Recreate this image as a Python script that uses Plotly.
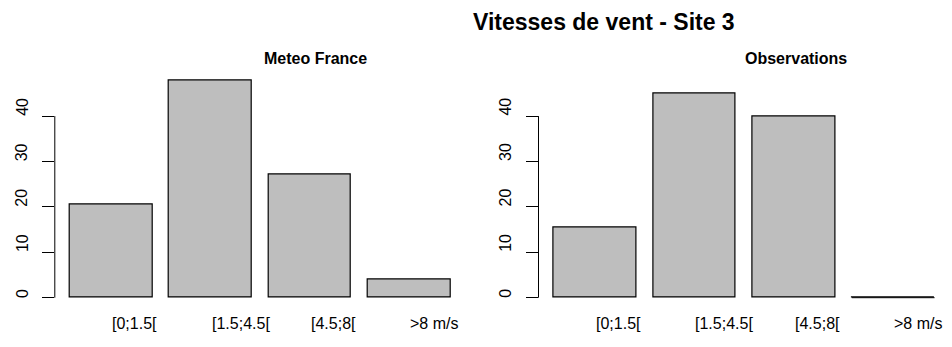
import plotly.graph_objects as go

# Wind speed classes and frequency (%) per source
categories = ["[0;1.5[", "[1.5;4.5[", "[4.5;8[", ">8 m/s"]
meteo_france = [20.6, 47.9, 27.2, 3.9]
observations = [15.4, 44.9, 39.8, 0.0]
y_ticks = [0, 10, 20, 30, 40]

main_title = "Vitesses de vent - Site 3"
panel_titles = ["Meteo France", "Observations"]

W, H = 952, 347
FONT = "Liberation Sans, Arial, sans-serif"
BAR_FILL = "#bebebe"
BAR_WIDTH = 1 / 1.2  # R barplot: width 1, space 0.2

# shared y range, padded 4% like R's default axis style
ymax = max(max(meteo_france), max(observations))
pad = 0.04 * ymax
y_range = [-pad, ymax + pad]

# plot regions (in pixels) converted to paper fractions
x_domains = [[54.8 / W, 465.6 / W], [538.5 / W, 949.8 / W]]
y_domain = [1 - 306.4 / H, 1 - 71.5 / H]
x_range = [-0.57, 3.57]

fig = go.Figure()
annotations = []
shapes = []

for i, (values, name) in enumerate(zip([meteo_france, observations], panel_titles)):
    xa = "x" if i == 0 else "x2"
    ya = "y" if i == 0 else "y2"
    fig.add_trace(go.Bar(
        x=categories, y=values, xaxis=xa, yaxis=ya,
        width=BAR_WIDTH,
        marker=dict(color=BAR_FILL, line=dict(color="black", width=1.2)),
        showlegend=False, hoverinfo="x+y",
    ))
    # zero-height bars are drawn as a flat line, as R does
    for j, v in enumerate(values):
        if v == 0:
            shapes.append(dict(
                type="line", xref=xa, yref=ya,
                x0=j - BAR_WIDTH / 2, x1=j + BAR_WIDTH / 2, y0=v, y1=v,
                line=dict(color="black", width=1),
            ))
    # y axis line spans only the tick range
    shapes.append(dict(
        type="line", xref=f"{xa} domain", yref=ya,
        x0=0, x1=0, y0=y_ticks[0], y1=y_ticks[-1],
        line=dict(color="black", width=1),
    ))
    # rotated y tick labels
    for t in y_ticks:
        annotations.append(dict(
            text=str(t), xref=f"{xa} domain", yref=ya, x=0, y=t,
            xanchor="center", yanchor="bottom", xshift=-33, yshift=-2,
            textangle=-90, showarrow=False,
            font=dict(family=FONT, size=16, color="black"),
        ))
    # category labels under the bars
    for c in categories:
        annotations.append(dict(
            text=c, xref=xa, yref="paper", x=c, y=1 - 323 / H,
            xanchor="left", yanchor="middle", xshift=-1,
            showarrow=False,
            font=dict(family=FONT, size=16, color="black"),
        ))
    # panel title
    annotations.append(dict(
        text=f"<b>{name}</b>", xref="paper", yref="paper",
        x=[315 / W, 795.5 / W][i], y=1 - 58 / H,
        xanchor="center", yanchor="middle", showarrow=False,
        font=dict(family=FONT, size=16, color="black"),
    ))

annotations.append(dict(
    text=f"<b>{main_title}</b>", xref="paper", yref="paper",
    x=604 / W, y=1 - 22 / H, xanchor="center", yanchor="middle",
    showarrow=False, font=dict(family=FONT, size=23, color="black"),
))

axis_common_x = dict(range=x_range, showticklabels=False, showline=False,
                     showgrid=False, zeroline=False, ticks="", fixedrange=True)
axis_common_y = dict(range=y_range, domain=y_domain, tickvals=y_ticks,
                     showticklabels=False, ticks="outside", ticklen=12,
                     tickwidth=1, tickcolor="black", showline=False,
                     showgrid=False, zeroline=False, fixedrange=True)

fig.update_layout(
    width=W, height=H,
    margin=dict(l=0, r=0, t=0, b=0),
    paper_bgcolor="white", plot_bgcolor="white",
    xaxis=dict(domain=x_domains[0], anchor="y", **axis_common_x),
    xaxis2=dict(domain=x_domains[1], anchor="y2", **axis_common_x),
    yaxis=dict(anchor="x", **axis_common_y),
    yaxis2=dict(anchor="x2", **axis_common_y),
    annotations=annotations,
    shapes=shapes,
    bargap=0,
)

fig.write_html("out.html")
